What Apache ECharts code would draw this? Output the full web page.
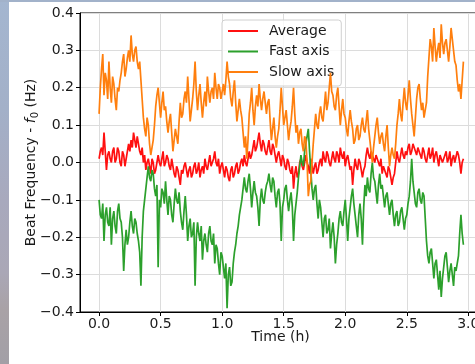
<!DOCTYPE html>
<html>
<head>
<meta charset="utf-8">
<script src="https://cdn.jsdelivr.net/npm/echarts@6/dist/echarts.min.js"></script>
<style>
html,body{margin:0;padding:0;width:475px;height:364px;overflow:hidden;background:#fff;}
#strip{position:absolute;left:0;top:0;width:9px;height:364px;background:linear-gradient(to bottom,#a4b6d0 0%,#a3b0c8 30%,#a8a9bd 55%,#aaa7b6 75%,#a9a2a6 85%,#a29fa6 100%);}
#topstrip{position:absolute;left:0;top:0;width:475px;height:2px;background:#a2b2ca;}
#chart{position:absolute;left:0;top:0;width:475px;height:364px;}
</style>
</head>
<body>
<div id="strip"></div>
<div id="topstrip"></div>
<div id="chart"></div>
<script>
const seriesNames = ['Average', 'Fast axis', 'Slow axis'];
const xTicks = [0, 0.5, 1.0, 1.5, 2.0, 2.5, 3.0];

const timeH = [
0.00,0.01,0.02,0.03,0.04,0.05,0.06,0.07,0.08,0.09,0.10,0.11,0.12,0.13,0.14,0.15,0.16,0.17,0.18,0.19,
0.20,0.21,0.22,0.23,0.24,0.25,0.26,0.27,0.28,0.29,0.30,0.31,0.32,0.33,0.34,0.35,0.36,0.37,0.38,0.39,
0.40,0.41,0.42,0.43,0.44,0.45,0.46,0.47,0.48,0.49,0.50,0.51,0.52,0.53,0.54,0.55,0.56,0.57,0.58,0.59,
0.60,0.61,0.62,0.63,0.64,0.65,0.66,0.67,0.68,0.69,0.70,0.71,0.72,0.73,0.74,0.75,0.76,0.77,0.78,0.79,
0.80,0.81,0.82,0.83,0.84,0.85,0.86,0.87,0.88,0.89,0.90,0.91,0.92,0.93,0.94,0.95,0.96,0.97,0.98,0.99,
1.00,1.01,1.02,1.03,1.04,1.05,1.06,1.07,1.08,1.09,1.10,1.11,1.12,1.13,1.14,1.15,1.16,1.17,1.18,1.19,
1.20,1.21,1.22,1.23,1.24,1.25,1.26,1.27,1.28,1.29,1.30,1.31,1.32,1.33,1.34,1.35,1.36,1.37,1.38,1.39,
1.40,1.41,1.42,1.43,1.44,1.45,1.46,1.47,1.48,1.49,1.50,1.51,1.52,1.53,1.54,1.55,1.56,1.57,1.58,1.59,
1.60,1.61,1.62,1.63,1.64,1.65,1.66,1.67,1.68,1.69,1.70,1.71,1.72,1.73,1.74,1.75,1.76,1.77,1.78,1.79,
1.80,1.81,1.82,1.83,1.84,1.85,1.86,1.87,1.88,1.89,1.90,1.91,1.92,1.93,1.94,1.95,1.96,1.97,1.98,1.99,
2.00,2.01,2.02,2.03,2.04,2.05,2.06,2.07,2.08,2.09,2.10,2.11,2.12,2.13,2.14,2.15,2.16,2.17,2.18,2.19,
2.20,2.21,2.22,2.23,2.24,2.25,2.26,2.27,2.28,2.29,2.30,2.31,2.32,2.33,2.34,2.35,2.36,2.37,2.38,2.39,
2.40,2.41,2.42,2.43,2.44,2.45,2.46,2.47,2.48,2.49,2.50,2.51,2.52,2.53,2.54,2.55,2.56,2.57,2.58,2.59,
2.60,2.61,2.62,2.63,2.64,2.65,2.66,2.67,2.68,2.69,2.70,2.71,2.72,2.73,2.74,2.75,2.76,2.77,2.78,2.79,
2.80,2.81,2.82,2.83,2.84,2.85,2.86,2.87,2.88,2.89,2.90,2.91,2.92,2.93,2.94,2.95,2.96
];

const average = [
0.01,0.03,0.04,0.02,0.08,0.03,-0.02,0.02,0.03,0.01,0.00,0.03,0.04,0.00,0.01,0.04,0.03,0.00,-0.01,0.03,
0.02,-0.01,0.01,0.03,0.05,0.03,0.06,0.04,0.08,0.06,0.04,0.07,0.05,0.03,0.02,0.04,0.00,0.02,-0.02,0.00,
0.01,-0.01,-0.03,0.01,0.00,-0.03,-0.02,0.00,0.02,0.00,-0.01,0.01,0.03,-0.01,0.00,0.02,0.01,-0.01,-0.02,0.01,
-0.01,-0.03,-0.04,-0.01,-0.02,-0.04,-0.06,-0.02,-0.03,-0.01,0.00,-0.02,-0.04,-0.02,-0.01,-0.04,-0.03,-0.01,0.00,-0.03,
-0.02,0.00,-0.04,-0.02,-0.01,-0.03,0.01,-0.01,-0.02,0.00,0.02,-0.01,0.00,0.01,0.03,0.00,-0.01,0.01,-0.03,-0.01,
0.00,-0.02,-0.04,-0.01,-0.02,-0.04,-0.05,-0.02,-0.01,-0.04,-0.03,-0.01,0.00,-0.03,-0.02,0.00,0.01,-0.01,0.02,0.00,
-0.01,0.01,0.03,0.01,0.02,0.04,0.06,0.03,0.04,0.06,0.08,0.05,0.03,0.06,0.05,0.03,0.02,0.04,0.06,0.03,
0.02,0.05,0.04,0.02,0.00,0.02,0.03,0.01,-0.01,0.02,0.01,-0.01,-0.02,0.01,0.00,-0.02,-0.03,-0.01,-0.07,-0.03,
-0.01,-0.04,-0.03,0.00,0.01,-0.01,-0.02,0.00,0.02,0.00,-0.01,-0.03,0.01,-0.01,-0.03,-0.01,0.00,-0.03,-0.02,0.00,
0.01,-0.01,0.03,0.01,0.00,0.03,0.02,0.00,-0.01,0.01,0.03,0.01,0.00,0.03,0.02,0.00,0.04,0.02,0.01,0.03,
-0.01,0.01,0.02,0.00,-0.02,-0.01,-0.06,-0.02,0.01,-0.01,-0.02,0.01,0.00,-0.02,-0.04,-0.02,-0.01,0.02,0.04,0.02,
0.01,0.03,0.03,0.01,0.00,0.02,0.02,0.00,-0.01,0.01,-0.03,-0.01,-0.01,-0.03,-0.04,-0.01,-0.02,-0.04,-0.06,-0.04,
-0.03,0.00,0.03,0.01,0.00,0.02,0.04,0.02,0.01,0.03,0.02,0.04,0.05,0.02,0.03,0.05,0.05,0.03,0.02,0.04,
0.04,0.02,0.01,0.04,0.03,0.01,0.00,0.02,0.04,0.01,0.02,0.04,0.00,0.02,0.03,0.01,-0.01,0.02,0.02,0.00,
0.00,0.02,0.03,0.00,0.01,0.03,-0.01,0.01,0.02,0.00,0.00,0.03,0.02,0.00,-0.03,0.00,0.01
];

const fastAxis = [
-0.10,-0.14,-0.15,-0.11,-0.21,-0.14,-0.12,-0.16,-0.17,-0.12,-0.22,-0.15,-0.13,-0.17,-0.19,-0.13,-0.11,-0.15,-0.16,-0.20,
-0.29,-0.22,-0.18,-0.22,-0.20,-0.16,-0.13,-0.17,-0.19,-0.15,-0.16,-0.19,-0.21,-0.24,-0.33,-0.20,-0.13,-0.10,-0.07,-0.04,
-0.01,-0.04,-0.05,-0.02,-0.03,-0.07,-0.09,-0.06,-0.28,-0.10,-0.12,-0.07,-0.08,-0.11,-0.05,-0.10,-0.14,-0.09,-0.10,-0.14,
-0.16,-0.11,-0.07,-0.10,-0.11,-0.08,-0.13,-0.16,-0.18,-0.13,-0.09,-0.14,-0.21,-0.17,-0.15,-0.20,-0.19,-0.16,-0.33,-0.20,
-0.16,-0.19,-0.21,-0.17,-0.26,-0.21,-0.19,-0.22,-0.24,-0.19,-0.17,-0.21,-0.22,-0.19,-0.27,-0.22,-0.23,-0.27,-0.30,-0.24,
-0.25,-0.28,-0.31,-0.27,-0.39,-0.30,-0.28,-0.33,-0.32,-0.27,-0.24,-0.22,-0.19,-0.17,-0.14,-0.12,-0.10,-0.07,-0.04,-0.07,
-0.08,-0.05,-0.03,-0.07,-0.12,-0.08,-0.05,-0.08,-0.09,-0.12,-0.17,-0.10,-0.07,-0.10,-0.11,-0.08,-0.06,-0.05,-0.03,-0.06,
-0.08,-0.04,-0.05,-0.09,-0.12,-0.08,-0.07,-0.11,-0.21,-0.12,-0.10,-0.07,-0.06,-0.10,-0.13,-0.10,-0.08,-0.12,-0.21,-0.14,
-0.11,-0.08,-0.04,-0.01,0.02,0.00,-0.01,0.03,0.05,0.07,0.09,0.03,-0.02,-0.07,-0.10,-0.07,-0.06,-0.11,-0.15,-0.10,
-0.12,-0.16,-0.20,-0.15,-0.14,-0.19,-0.18,-0.15,-0.23,-0.19,-0.16,-0.20,-0.27,-0.22,-0.19,-0.15,-0.13,-0.16,-0.17,-0.13,
-0.10,-0.15,-0.21,-0.15,-0.12,-0.09,-0.07,-0.11,-0.14,-0.17,-0.20,-0.14,-0.11,-0.15,-0.22,-0.12,-0.06,-0.09,-0.04,-0.07,
-0.08,-0.03,0.00,-0.04,-0.05,-0.08,-0.11,-0.06,-0.03,-0.07,-0.06,-0.09,-0.12,-0.09,-0.08,-0.11,-0.14,-0.11,-0.10,-0.14,
-0.17,-0.14,-0.13,-0.17,-0.16,-0.13,-0.12,-0.15,-0.18,-0.15,-0.14,-0.11,-0.09,-0.05,0.01,-0.05,-0.08,-0.11,-0.12,-0.08,
-0.07,-0.10,-0.11,-0.08,-0.09,-0.15,-0.21,-0.25,-0.27,-0.24,-0.23,-0.27,-0.31,-0.27,-0.26,-0.30,-0.34,-0.29,-0.36,-0.31,
-0.28,-0.25,-0.24,-0.28,-0.32,-0.29,-0.27,-0.30,-0.33,-0.28,-0.29,-0.27,-0.25,-0.19,-0.14,-0.19,-0.22
];

const slowAxis = [
0.13,0.20,0.25,0.29,0.18,0.24,0.22,0.17,0.27,0.20,0.16,0.23,0.21,0.17,0.14,0.20,0.19,0.22,0.24,0.27,
0.29,0.23,0.25,0.28,0.30,0.27,0.34,0.29,0.27,0.30,0.31,0.27,0.25,0.27,0.22,0.17,0.12,0.09,0.07,0.12,
0.10,0.05,0.02,0.04,0.06,0.10,0.15,0.18,0.20,0.16,0.12,0.16,0.19,0.14,0.15,0.11,0.08,0.11,0.13,0.08,
0.03,0.06,0.09,0.07,0.05,0.11,0.16,0.12,0.13,0.17,0.19,0.16,0.23,0.17,0.11,0.14,0.17,0.21,0.27,0.19,
0.14,0.18,0.21,0.16,0.12,0.16,0.19,0.15,0.23,0.19,0.16,0.19,0.20,0.17,0.24,0.20,0.17,0.21,0.20,0.17,
0.19,0.21,0.18,0.22,0.27,0.23,0.21,0.17,0.15,0.19,0.22,0.16,0.11,0.14,0.17,0.14,0.12,0.08,0.04,0.07,
0.01,0.06,0.13,0.16,0.20,0.14,0.10,0.15,0.18,0.15,0.21,0.17,0.14,0.17,0.19,0.16,0.13,0.16,0.17,0.11,
0.06,0.09,0.12,0.07,0.04,0.07,0.09,0.14,0.20,0.15,0.10,0.12,0.14,0.10,0.06,0.09,0.11,0.15,0.20,0.13,
0.08,0.10,0.05,0.08,0.09,0.05,0.03,0.07,0.06,0.00,-0.09,-0.06,-0.05,0.00,0.05,0.09,0.13,0.10,0.09,0.13,
0.15,0.12,0.11,0.15,0.19,0.14,0.16,0.20,0.24,0.19,0.18,0.15,0.14,0.18,0.20,0.15,0.10,0.14,0.17,0.13,
0.12,0.09,0.07,0.11,0.14,0.11,0.09,0.05,0.06,0.09,0.10,0.06,0.07,0.10,0.12,0.09,0.08,0.11,0.14,0.09,
0.06,0.03,0.00,0.04,0.07,0.10,0.12,0.08,0.05,0.07,0.08,0.05,0.03,0.07,0.10,0.04,-0.01,0.02,0.04,0.02,
0.01,0.05,0.10,0.13,0.17,0.13,0.11,0.16,0.20,0.16,0.14,0.18,0.22,0.17,0.13,0.10,0.07,0.12,0.17,0.20,
0.21,0.17,0.14,0.16,0.12,0.14,0.16,0.23,0.28,0.33,0.31,0.27,0.36,0.31,0.27,0.30,0.32,0.28,0.37,0.32,
0.29,0.32,0.33,0.30,0.27,0.31,0.36,0.33,0.30,0.27,0.26,0.22,0.19,0.21,0.17,0.22,0.27
];

const colors = ['#ff1010', '#2ca02c', '#ff7f0e'];

function pairs(xs, ys) { return xs.map((x, i) => [x, ys[i]]); }
function fmt(v) {
  const r = Math.round(v * 10) / 10;
  if (Math.abs(r) < 1e-9) return '0.0';
  return (r < 0 ? '\u2212' : '') + Math.abs(r).toFixed(1);
}

const chart = echarts.init(document.getElementById('chart'), null, {renderer: 'canvas'});
const font = 'DejaVu Sans';
chart.setOption({
  animation: false,
  backgroundColor: 'transparent',
  textStyle: {fontFamily: font},
  grid: {left: 80, top: 13, width: 401, height: 299, containLabel: false, outerBoundsMode: 'none',
         show: true, borderColor: '#000', borderWidth: 1, backgroundColor: '#fff'},
  legend: {
    data: seriesNames,
    orient: 'vertical',
    left: 222, top: 20,
    itemWidth: 30, itemHeight: 14, itemGap: 6.5,
    padding: [4, 7, 7, 5],
    backgroundColor: 'rgba(255,255,255,0.8)',
    borderColor: '#d0d0d0', borderWidth: 1, borderRadius: 3,
    itemStyle: {opacity: 0},
    textStyle: {fontFamily: font, fontSize: 14, color: '#1a1a1a', padding: [0, 0, 0, 6]}
  },
  xAxis: {
    type: 'value', min: -0.155, max: 3.103,
    name: 'Time (h)', nameLocation: 'middle', nameGap: 18, nameMoveOverlap: false,
    nameTextStyle: {fontFamily: font, fontSize: 14, color: '#1a1a1a'},
    axisLine: {show: true, onZero: false, lineStyle: {color: '#000', width: 1}},
    axisTick: {show: true, length: 4, customValues: xTicks, lineStyle: {color: '#000'}},
    axisLabel: {customValues: xTicks, formatter: fmt, fontFamily: font, fontSize: 14, color: '#1a1a1a', margin: 5},
    splitLine: {show: true, lineStyle: {color: '#dcdcdc', width: 1}}
  },
  yAxis: {
    type: 'value', min: -0.4, max: 0.4, interval: 0.1,
    name: '{a|Beat Frequency - }{f|f}{s|0}{a| (Hz)}', nameLocation: 'middle', nameGap: 40, nameMoveOverlap: false,
    nameTextStyle: {fontFamily: font, fontSize: 14, color: '#1a1a1a',
      rich: {
        a: {fontFamily: font, fontSize: 14, color: '#1a1a1a'},
        f: {fontFamily: font, fontSize: 14, fontStyle: 'italic', color: '#1a1a1a'},
        s: {fontFamily: font, fontSize: 10, color: '#1a1a1a', padding: [7, 0, 0, 0]}
      }},
    axisLine: {show: true, onZero: false, lineStyle: {color: '#000', width: 1}},
    axisTick: {show: true, length: 4, lineStyle: {color: '#000'}},
    axisLabel: {formatter: fmt, fontFamily: font, fontSize: 14, color: '#1a1a1a', margin: 6},
    splitLine: {show: true, lineStyle: {color: '#dcdcdc', width: 1}}
  },
  series: [
    {name: seriesNames[0], type: 'line', data: pairs(timeH, average), symbol: 'none', color: colors[0], lineStyle: {width: 1.7, color: colors[0]}, z: 2},
    {name: seriesNames[1], type: 'line', data: pairs(timeH, fastAxis), symbol: 'none', color: colors[1], lineStyle: {width: 1.7, color: colors[1]}, z: 3},
    {name: seriesNames[2], type: 'line', data: pairs(timeH, slowAxis), symbol: 'none', color: colors[2], lineStyle: {width: 1.7, color: colors[2]}, z: 4}
  ]
});
</script>
</body>
</html>
